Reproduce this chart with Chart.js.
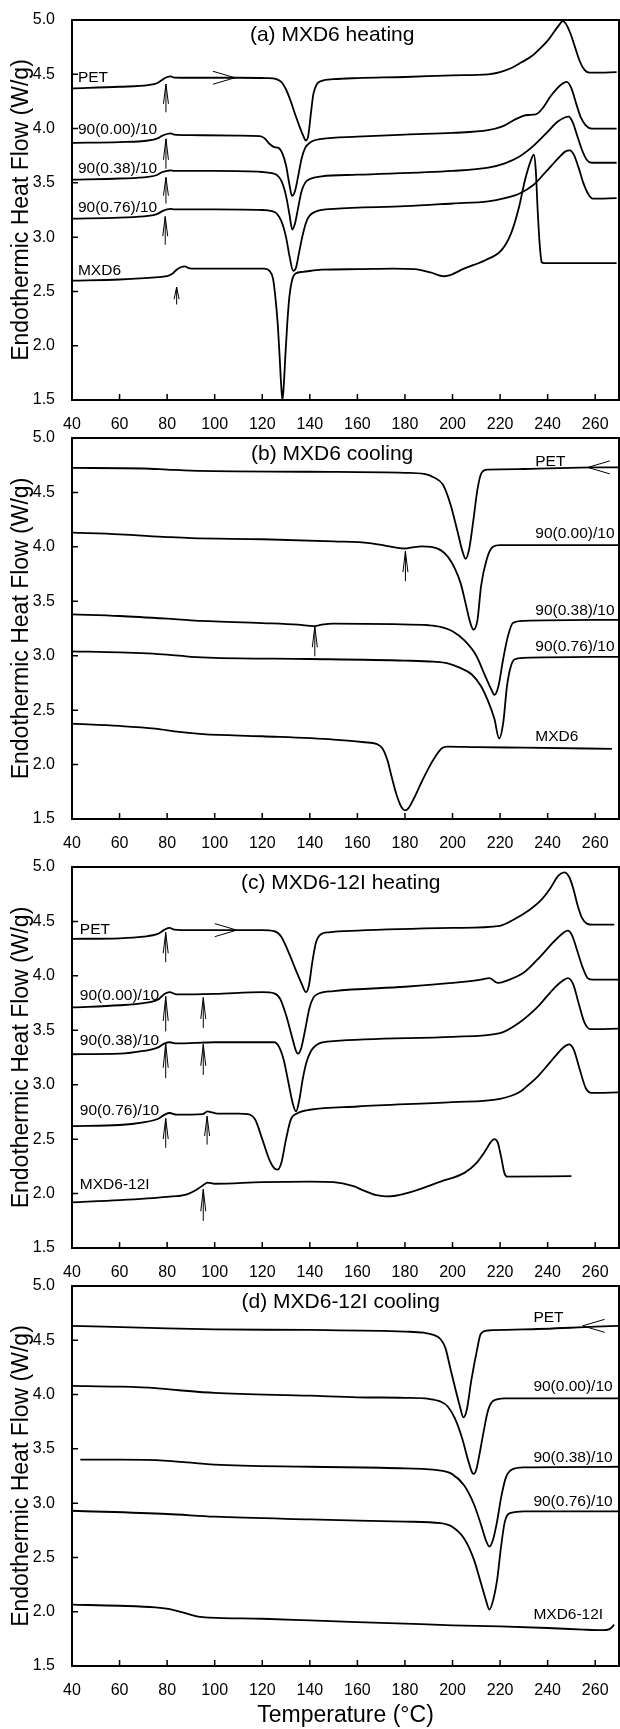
<!DOCTYPE html>
<html>
<head>
<meta charset="utf-8">
<title>DSC curves</title>
<script src="https://cdn.jsdelivr.net/npm/chart.js@4.4.0/dist/chart.umd.min.js"></script>
<style>
  body { margin: 0; background: #fff; }
  #wrap { position: relative; width: 620px; height: 1729px; overflow: hidden; }
  #wrap canvas { position: absolute; left: 0; }
</style>
</head>
<body>
<div id="wrap">
  <canvas id="panelA" width="620" height="432" style="top:0px"></canvas>
  <canvas id="panelB" width="620" height="433" style="top:418px"></canvas>
  <canvas id="panelC" width="620" height="433" style="top:847px"></canvas>
  <canvas id="panelD" width="620" height="463" style="top:1266px"></canvas>
</div>
<script>
// Axis ticks shared by all four panels
const tempTicks = [40, 60, 80, 100, 120, 140, 160, 180, 200, 220, 240, 260];
const heatTicks = [1.5, 2.0, 2.5, 3.0, 3.5, 4.0, 4.5, 5.0];
const blendNames = ['PET', '90(0.00)/10', '90(0.38)/10', '90(0.76)/10'];

// (a) MXD6 heating  [temperature, heat flow]
const aPET = [[40,4.37],[60,4.385],[72,4.40],[76,4.42],[78,4.45],[80,4.475],[81.5,4.48],[83,4.47],[90,4.468],[110,4.468],[122,4.465],[126,4.455],[128,4.43],[130,4.36],[132,4.25],[134,4.12],[136,4.0],[137.5,3.92],[138.3,3.89],[139.3,3.93],[140.5,4.15],[141.5,4.32],[143,4.41],[145,4.44],[150,4.455],[160,4.465],[180,4.475],[200,4.49],[215,4.50],[220,4.52],[225,4.56],[229,4.61],[233.5,4.67],[237,4.74],[240,4.81],[243,4.90],[245,4.96],[246.3,4.99],[247.5,4.97],[249.5,4.88],[251.5,4.75],[253.5,4.62],[255.5,4.54],[257.5,4.515],[260,4.515],[269,4.52]];
const a000 = [[40,3.868],[60,3.875],[72,3.89],[76,3.91],[78,3.935],[80,3.95],[81.5,3.955],[83,3.945],[90,3.94],[110,3.935],[119,3.93],[121,3.91],[123,3.86],[125,3.83],[127,3.82],[128.5,3.77],[130,3.66],[131.3,3.50],[132.5,3.38],[133.7,3.42],[135,3.55],[136.5,3.72],[138,3.82],[140,3.87],[145,3.905],[160,3.925],[180,3.945],[200,3.96],[215,3.985],[221,4.02],[226,4.08],[230,4.12],[232,4.125],[235,4.13],[238,4.19],[241,4.29],[244,4.37],[246,4.41],[248,4.43],[250,4.37],[252,4.23],[254,4.10],[256,4.03],[258.5,4.0],[269,4.0]];
const a038 = [[40,3.53],[60,3.54],[72,3.555],[76,3.575],[78,3.60],[80,3.61],[81.5,3.615],[83,3.61],[100,3.61],[120,3.60],[124,3.59],[126,3.575],[128,3.52],[130,3.38],[131.5,3.20],[132.6,3.07],[133.7,3.12],[135,3.26],[136.5,3.42],[138,3.50],[140,3.535],[145,3.56],[160,3.575],[200,3.61],[215,3.64],[222,3.68],[228,3.74],[234,3.84],[240,3.97],[244,4.06],[247,4.10],[248.8,4.11],[250.5,4.06],[252.5,3.93],[254.5,3.80],[256.5,3.71],[258.5,3.685],[269,3.685]];
const a076 = [[40,3.17],[60,3.18],[72,3.195],[76,3.215],[78,3.24],[80,3.255],[81.5,3.26],[83,3.255],[100,3.255],[120,3.25],[124,3.24],[126,3.22],[128,3.15],[130,3.0],[131.5,2.82],[133,2.69],[134.2,2.72],[135.5,2.86],[137,3.02],[138.5,3.14],[140,3.20],[143,3.24],[150,3.26],[180,3.285],[200,3.31],[215,3.33],[222,3.36],[228,3.40],[234,3.48],[240,3.62],[245,3.74],[247.5,3.79],[249.3,3.80],[251,3.76],[253,3.64],[255,3.50],[257,3.40],[259,3.355],[269,3.36]];
const aMXD6 = [[40,2.60],[60,2.61],[75,2.63],[80,2.64],[82,2.66],[84,2.70],[86,2.725],[87.5,2.73],[89,2.715],[92,2.71],[110,2.71],[121,2.71],[123,2.69],[124.5,2.62],[125.5,2.45],[126.5,2.2],[127.3,1.9],[128,1.62],[128.5,1.50],[129,1.62],[129.7,1.9],[130.5,2.2],[131.4,2.45],[132.5,2.6],[134,2.665],[137,2.68],[145,2.70],[160,2.705],[175,2.71],[184,2.705],[190.7,2.675],[196.5,2.64],[199,2.65],[204.8,2.71],[214,2.79],[220.6,2.88],[224.7,3.04],[228,3.28],[230.4,3.52],[233,3.71],[234.2,3.76],[235,3.62],[235.8,3.25],[236.6,2.95],[237.5,2.77],[238.5,2.76],[269,2.76]];

// (b) MXD6 cooling
const bPET = [[40,4.725],[70,4.72],[80,4.71],[90,4.70],[140,4.69],[180,4.68],[188,4.67],[192,4.64],[196,4.57],[199,4.40],[202,4.15],[204.3,3.95],[205.5,3.89],[207,3.98],[208.8,4.25],[210.5,4.53],[212.2,4.68],[214.6,4.71],[230,4.715],[260,4.73],[270,4.73]];
const b000 = [[40,4.13],[60,4.115],[80,4.09],[90,4.08],[120,4.07],[150,4.05],[165,4.035],[172,4.01],[177,3.99],[180,3.985],[183,3.995],[187,4.005],[191,4.0],[195,3.97],[198,3.91],[201,3.80],[203.5,3.66],[205.5,3.48],[207.5,3.30],[208.8,3.24],[210.5,3.33],[212,3.64],[214.3,3.88],[217,4.0],[220,4.015],[240,4.015],[270,4.015]];
const b038 = [[40,3.38],[60,3.365],[80,3.34],[90,3.325],[120,3.30],[135,3.285],[140,3.275],[142,3.272],[145,3.285],[150,3.295],[175,3.29],[190,3.28],[195,3.265],[200,3.225],[205,3.14],[210,3.00],[213.8,2.81],[216.3,2.69],[217.6,2.64],[219.3,2.72],[221.3,2.97],[223.3,3.18],[225.4,3.30],[230,3.32],[270,3.33]];
const b076 = [[40,3.04],[60,3.03],[80,3.01],[90,2.99],[100,2.98],[140,2.97],[180,2.955],[192,2.945],[198,2.93],[203,2.89],[208,2.83],[212,2.72],[215,2.58],[217.6,2.42],[219.6,2.24],[221.3,2.38],[222.9,2.72],[224.5,2.90],[226,2.965],[230,2.98],[270,2.99]];
const bMXD6 = [[40,2.376],[60,2.355],[75,2.33],[85,2.30],[95,2.28],[120,2.26],[150,2.23],[163,2.205],[168,2.19],[170.5,2.15],[172.5,2.05],[174.5,1.88],[176.5,1.72],[178.5,1.61],[180,1.58],[181.5,1.60],[184,1.70],[187,1.84],[190,1.97],[193,2.08],[195.5,2.15],[198,2.165],[210,2.16],[230,2.155],[267,2.145]];

// (c) MXD6-12I heating
const cPET = [[40,4.34],[60,4.345],[70,4.36],[76,4.385],[79,4.425],[81,4.44],[83,4.425],[90,4.42],[120,4.42],[125,4.41],[128,4.36],[131,4.22],[134,4.06],[136.5,3.93],[138.4,3.85],[139.6,3.91],[141,4.12],[142.5,4.30],[144.5,4.38],[148,4.40],[160,4.415],[200,4.44],[220,4.46],[226,4.52],[232,4.60],[237,4.69],[241,4.80],[244.5,4.92],[247,4.95],[249,4.91],[250.8,4.80],[252.7,4.64],[254.5,4.53],[256.5,4.48],[259,4.47],[268,4.47]];
const c000 = [[40,3.71],[60,3.73],[70,3.75],[76,3.78],[79,3.835],[81,3.85],[84,3.83],[100,3.835],[120,3.85],[125,3.84],[127.5,3.79],[130,3.64],[132.5,3.44],[134.2,3.31],[135,3.285],[136.3,3.33],[138,3.50],[139.8,3.70],[141.5,3.80],[144,3.84],[150,3.86],[180,3.90],[200,3.935],[212,3.965],[215.5,3.98],[219,3.935],[222,3.95],[230,4.03],[237,4.18],[242,4.30],[246,4.385],[248.4,4.415],[250.3,4.37],[252.3,4.24],[254.5,4.09],[256.8,3.98],[259,3.965],[270,3.965]];
const c038 = [[40,3.28],[60,3.285],[70,3.31],[76,3.34],[79,3.38],[81,3.39],[84,3.38],[100,3.39],[120,3.39],[125,3.39],[127,3.35],[129,3.23],[131,3.02],[132.8,2.83],[134.2,2.755],[135.5,2.85],[137,3.05],[138.5,3.20],[140.5,3.31],[144,3.38],[150,3.40],[200,3.44],[220,3.475],[228,3.57],[236,3.72],[242,3.87],[246,3.95],[248.5,3.98],[250.8,3.92],[253,3.75],[255.5,3.57],[258,3.51],[270,3.515]];
const c076 = [[40,2.62],[60,2.63],[70,2.655],[76,2.685],[79,2.725],[81,2.74],[84,2.725],[95,2.73],[97,2.755],[99,2.745],[101,2.735],[110,2.735],[114,2.73],[117,2.68],[120,2.50],[123,2.31],[125.5,2.225],[126.5,2.22],[128,2.28],[130,2.50],[132,2.68],[135,2.74],[140,2.77],[160,2.80],[200,2.84],[220,2.87],[228,2.93],[232,3.0],[236,3.08],[240,3.18],[243.5,3.27],[246.5,3.34],[249,3.37],[251,3.32],[253.5,3.14],[256,2.97],[258.5,2.925],[270,2.93]];
const cMXD612I = [[40,1.92],[60,1.94],[80,1.97],[88,1.99],[92,2.03],[95,2.075],[97,2.10],[100,2.09],[120,2.105],[140,2.11],[150,2.105],[158,2.07],[163,2.025],[168,1.985],[172,1.975],[176,1.98],[182,2.01],[195,2.11],[205,2.19],[210,2.28],[214,2.40],[216,2.47],[217.5,2.50],[219,2.47],[220.5,2.33],[221.8,2.19],[223,2.155],[250,2.16]];

// (d) MXD6-12I cooling
const dPET = [[40,4.633],[80,4.61],[100,4.60],[140,4.595],[180,4.58],[188,4.57],[192,4.55],[195,4.51],[197,4.43],[199,4.25],[201,4.07],[203,3.90],[204.6,3.79],[206,3.86],[207.9,4.13],[210.2,4.40],[211.9,4.56],[214.8,4.59],[230,4.60],[260,4.625],[270,4.633]];
const d000 = [[40,4.08],[60,4.073],[75,4.06],[85,4.04],[100,4.015],[140,3.99],[160,3.975],[180,3.97],[190,3.96],[195,3.935],[198,3.89],[201,3.78],[204,3.60],[206.5,3.40],[208.3,3.28],[209,3.27],[210,3.31],[211.5,3.47],[213,3.65],[214.9,3.85],[217,3.94],[222,3.965],[270,3.965]];
const d038 = [[43.5,3.40],[60,3.40],[80,3.39],[100,3.355],[140,3.335],[180,3.32],[195,3.30],[200,3.265],[205,3.16],[209,2.99],[212,2.80],[214,2.66],[215.5,2.60],[217,2.66],[218.8,2.84],[220.5,3.06],[222.5,3.24],[225,3.31],[230,3.33],[270,3.335]];
const d076 = [[40,2.93],[80,2.90],[100,2.875],[140,2.85],[180,2.83],[195,2.815],[200,2.78],[205,2.67],[209,2.48],[212,2.26],[214,2.11],[215.5,2.02],[217,2.10],[218.8,2.30],[220.3,2.58],[222,2.83],[224.5,2.91],[230,2.925],[270,2.925]];
const dMXD612I = [[40,2.065],[60,2.055],[75,2.04],[82,2.02],[88,1.985],[93,1.955],[98,1.945],[120,1.935],[140,1.92],[160,1.905],[180,1.89],[200,1.875],[220,1.865],[240,1.85],[255,1.835],[263,1.83],[266,1.84],[268,1.88]];

// Annotations (data units): labels [T, H], up arrows [T, tip, tail], side arrows [T, H, direction]
const aLabelAt = [[42.5,4.465],[42.5,3.99],[42.5,3.63],[42.5,3.27],[42.5,2.69]];
const bLabelAt = [[234.8,4.786],[234.8,4.12],[234.8,3.41],[234.8,3.08],[234.8,2.26]];
const cLabelAt = [[43.3,4.424],[43.3,3.82],[43.3,3.40],[43.3,2.76],[43.3,2.08]];
const dLabelAt = [[234,4.71],[234,4.07],[234,3.416],[234,3.01],[234,1.97]];
const aArrows = [[79.5,4.41,4.15],[79.5,3.905,3.63],[79.5,3.55,3.31],[79.2,3.19,2.93],[84,2.54,2.38]];
const bArrows = [[180.2,3.96,3.685],[142.1,3.27,2.995]];
const cArrows = [[79.4,4.40,4.125],[79.4,3.81,3.49],[95.2,3.80,3.52],[79.4,3.38,3.06],[95.2,3.37,3.09],[79.4,2.69,2.42],[96.8,2.71,2.45],[95.2,2.04,1.75]];
const dArrows = [];
const aSide = [[108.5,4.468,1]];
const bSide = [[256.9,4.73,-1]];
const cSide = [[109.3,4.42,1]];
const dSide = [[254.7,4.633,-1]];

const FONT = '"Liberation Sans", Arial, Helvetica, sans-serif';

// Draws the frame, inward ticks, panel title, curve labels and arrows
const panelDecor = {
    id: 'panelDecor',
    afterDraw(chart, args, opts) {
        const { ctx, chartArea: area, scales: { x, y } } = chart;
        ctx.save();
        ctx.strokeStyle = '#000';
        ctx.fillStyle = '#000';

        // frame
        ctx.lineWidth = 2;
        ctx.strokeRect(area.left, area.top, area.right - area.left, area.bottom - area.top);

        // tick marks pointing into the plot
        ctx.lineWidth = 1.5;
        ctx.beginPath();
        tempTicks.forEach(v => {
            const px = x.getPixelForValue(v);
            ctx.moveTo(px, area.bottom);
            ctx.lineTo(px, area.bottom - 6);
        });
        heatTicks.forEach(v => {
            const py = y.getPixelForValue(v);
            ctx.moveTo(area.left, py);
            ctx.lineTo(area.left + 6, py);
        });
        ctx.stroke();

        // panel title
        ctx.font = '21px ' + FONT;
        ctx.textAlign = 'center';
        ctx.textBaseline = 'middle';
        ctx.fillText(opts.title, x.getPixelForValue(opts.titleAt[0]), y.getPixelForValue(opts.titleAt[1]));

        // curve labels
        ctx.font = '15.5px ' + FONT;
        ctx.textAlign = 'left';
        opts.names.forEach((name, i) => {
            const [t, h] = opts.labelAt[i];
            ctx.fillText(name, x.getPixelForValue(t), y.getPixelForValue(h));
        });

        // upward arrows
        ctx.lineWidth = 1;
        opts.upArrows.forEach(([t, tip, tail]) => {
            const px = x.getPixelForValue(t);
            const p0 = y.getPixelForValue(tip);
            const p1 = y.getPixelForValue(tail);
            const barb = (p1 - p0) * 0.7;
            ctx.beginPath();
            ctx.moveTo(px, p1);
            ctx.lineTo(px, p0);
            ctx.moveTo(px - 2.5, p0 + barb);
            ctx.lineTo(px, p0);
            ctx.lineTo(px + 2.5, p0 + barb);
            ctx.stroke();
        });

        // open arrow heads showing the scan direction
        opts.sideArrows.forEach(([t, h, dir]) => {
            const px = x.getPixelForValue(t);
            const py = y.getPixelForValue(h);
            ctx.beginPath();
            ctx.moveTo(px - dir * 22, py - 6.5);
            ctx.lineTo(px, py);
            ctx.lineTo(px - dir * 22, py + 6.5);
            ctx.stroke();
        });
        ctx.restore();
    }
};

function makePanel(canvasId, curves, decor, xAxisHeight, showXTitle) {
    const canvas = document.getElementById(canvasId);
    new Chart(canvas, {
        type: 'line',
        data: {
            datasets: curves.map(curve => ({
                data: curve.map(([t, h]) => ({ x: t, y: h })),
                borderColor: '#000',
                borderWidth: 1.8,
                pointRadius: 0,
                fill: false,
                cubicInterpolationMode: 'monotone'
            }))
        },
        options: {
            responsive: false,
            animation: false,
            devicePixelRatio: 1,
            layout: { padding: { top: 20, right: 1, left: 0, bottom: 0 } },
            plugins: {
                legend: { display: false },
                tooltip: { enabled: false },
                panelDecor: decor
            },
            scales: {
                x: {
                    type: 'linear',
                    min: 40,
                    max: 270,
                    afterBuildTicks: scale => { scale.ticks = tempTicks.map(v => ({ value: v })); },
                    afterFit: scale => { scale.height = xAxisHeight; },
                    grid: { display: false },
                    border: { display: false },
                    ticks: {
                        padding: 7,
                        color: '#000',
                        autoSkip: false,
                        maxRotation: 0,
                        font: { family: FONT, size: 16 }
                    },
                    title: {
                        display: showXTitle,
                        text: 'Temperature (°C)',
                        color: '#000',
                        font: { family: FONT, size: 23 },
                        padding: { top: 0, bottom: 0 }
                    }
                },
                y: {
                    type: 'linear',
                    min: 1.5,
                    max: 5.0,
                    afterBuildTicks: scale => { scale.ticks = heatTicks.map(v => ({ value: v })); },
                    afterFit: scale => { scale.width = 72; },
                    grid: { display: false },
                    border: { display: false },
                    ticks: {
                        padding: 9,
                        color: '#000',
                        font: { family: FONT, size: 16 },
                        callback: value => value.toFixed(1)
                    },
                    title: {
                        display: true,
                        text: 'Endothermic Heat Flow (W/g)',
                        color: '#000',
                        font: { family: FONT, size: 23 },
                        padding: { top: 8, bottom: 0 }
                    }
                }
            }
        },
        plugins: [panelDecor]
    });
}

makePanel('panelA', [aPET, a000, a038, a076, aMXD6], {
    title: '(a) MXD6 heating', titleAt: [149.4, 4.86],
    names: [...blendNames, 'MXD6'], labelAt: aLabelAt,
    upArrows: aArrows, sideArrows: aSide
}, 32, false);

makePanel('panelB', [bPET, b000, b038, b076, bMXD6], {
    title: '(b) MXD6 cooling', titleAt: [149.4, 4.85],
    names: [...blendNames, 'MXD6'], labelAt: bLabelAt,
    upArrows: bArrows, sideArrows: bSide
}, 32, false);

makePanel('panelC', [cPET, c000, c038, c076, cMXD612I], {
    title: '(c) MXD6-12I heating', titleAt: [153, 4.85],
    names: [...blendNames, 'MXD6-12I'], labelAt: cLabelAt,
    upArrows: cArrows, sideArrows: cSide
}, 32, false);

makePanel('panelD', [dPET, d000, d038, d076, dMXD612I], {
    title: '(d) MXD6-12I cooling', titleAt: [153, 4.85],
    names: [...blendNames, 'MXD6-12I'], labelAt: dLabelAt,
    upArrows: dArrows, sideArrows: dSide
}, 63, true);
</script>
</body>
</html>
